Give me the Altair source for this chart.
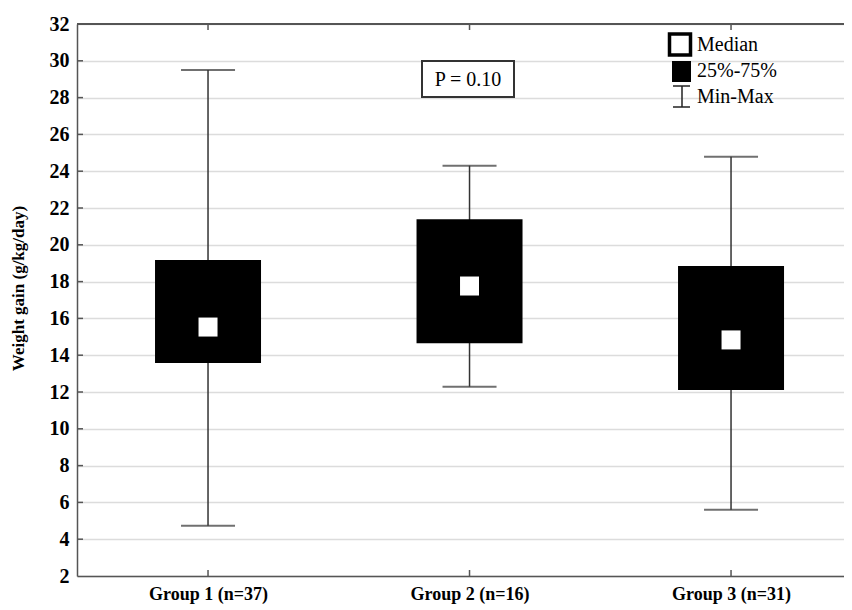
import altair as alt
import pandas as pd

# ---- data ----
groups = ["Group 1 (n=37)", "Group 2 (n=16)", "Group 3 (n=31)"]
mins = [4.73, 12.29, 5.6]
q1s = [13.58, 14.65, 12.11]
medians = [15.53, 17.76, 14.83]
q3s = [19.17, 21.39, 18.85]
maxs = [29.5, 24.3, 24.79]
y_ticks = list(range(2, 33, 2))
p_text = "P = 0.10"
legend_labels = ["Median", "25%-75%", "Min-Max"]

W, H = 767, 552
FONT = "Liberation Serif"
AX = "#555555"

df = pd.DataFrame({"group": groups, "min": mins, "q1": q1s, "median": medians,
                   "q3": q3s, "max": maxs})
ticks_df = pd.DataFrame({"v": y_ticks[1:-1]})

xscale = alt.Scale(type="point", domain=groups, padding=0.4665, align=0.537)
yscale = alt.Scale(domain=[2, 32], nice=False, zero=False)

x_axis = alt.Axis(title=None, ticks=False, labelFontSize=18, labelFontWeight="bold",
                  labelColor="black", labelPadding=9, domainColor=AX,
                  domainWidth=1.5, labelAngle=0, grid=False, labelBound=False)
y_axis = alt.Axis(values=y_ticks, title="Weight gain (g/kg/day)", titleFontSize=17,
                  titleFontWeight="bold", titleColor="black", titleX=-59, titleY=264,
                  titleAngle=-90, titleAlign="center", titleBaseline="middle",
                  ticks=False, labelFontSize=20, labelFontWeight="bold", labelColor="black",
                  labelPadding=8, labelOverlap=False, labelFlush=False, labelBound=False,
                  domainColor=AX, domainWidth=1.5, grid=True,
                  gridColor="#dcdcdc", gridWidth=1.5)


def X():
    return alt.X("group:N", scale=xscale, sort=groups, axis=x_axis)


def Y(field):
    return alt.Y(field, scale=yscale, axis=y_axis)


base = alt.Chart(df)

whisker = base.mark_rule(color="#333333", strokeWidth=1.5).encode(
    x=X(), y=Y("min:Q"), y2="max:Q")
cap_lo = base.mark_tick(color="#333333", size=54, thickness=2, orient="horizontal").encode(
    x=X(), y=Y("min:Q"))
cap_hi = base.mark_tick(color="#333333", size=54, thickness=2, orient="horizontal").encode(
    x=X(), y=Y("max:Q"))
box = base.mark_bar(color="black", size=106).encode(x=X(), y=Y("q1:Q"), y2="q3:Q")
med = base.mark_square(size=361, color="white", opacity=1).encode(x=X(), y=Y("median:Q"))

# inward ticks and frame
ytick_marks = alt.Chart(ticks_df).mark_rule(color=AX, strokeWidth=1.5).encode(
    x=alt.value(0), x2=alt.value(6), y=Y("v:Q"))
xtick_bot = base.mark_rule(color=AX, strokeWidth=1.5).encode(
    x=X(), y=alt.value(H), y2=alt.value(H - 6))
xtick_top = base.mark_rule(color=AX, strokeWidth=1.5).encode(
    x=X(), y=alt.value(0), y2=alt.value(6))
one = alt.Chart(pd.DataFrame({"a": [0]}))
top_frame = one.mark_rule(color=AX, strokeWidth=2).encode(
    x=alt.value(0), x2=alt.value(W), y=alt.value(0))

# P-value box
p_box = one.mark_rect(fill="white", stroke="#333333", strokeWidth=2).encode(
    x=alt.value(345), x2=alt.value(437), y=alt.value(37), y2=alt.value(73))
p_lbl = one.mark_text(font=FONT, fontSize=20, color="black", align="center",
                      baseline="middle").encode(x=alt.value(391), y=alt.value(56),
                                                text=alt.value(p_text))

# legend
leg_med = one.mark_square(size=441, fill="white", stroke="black", strokeWidth=3.5,
                          opacity=1).encode(x=alt.value(603), y=alt.value(20.5))
leg_box = one.mark_rect(color="black").encode(
    x=alt.value(595), x2=alt.value(614), y=alt.value(37), y2=alt.value(58))
leg_v = one.mark_rule(color="#222222", strokeWidth=1.5).encode(
    x=alt.value(605), y=alt.value(62), y2=alt.value(83))
leg_c1 = one.mark_rule(color="#222222", strokeWidth=1.5).encode(
    x=alt.value(596), x2=alt.value(613), y=alt.value(62))
leg_c2 = one.mark_rule(color="#222222", strokeWidth=1.5).encode(
    x=alt.value(596), x2=alt.value(613), y=alt.value(83))
leg_texts = [
    one.mark_text(font=FONT, fontSize=20, color="black", align="left",
                  baseline="alphabetic").encode(x=alt.value(620), y=alt.value(yy),
                                                text=alt.value(lbl))
    for lbl, yy in zip(legend_labels, [27, 53, 79])
]

chart = alt.layer(
    whisker, cap_lo, cap_hi, box, med, ytick_marks, xtick_bot, xtick_top, top_frame,
    p_box, p_lbl, leg_med, leg_box, leg_v, leg_c1, leg_c2, *leg_texts
).properties(
    width=W, height=H,
    autosize=alt.AutoSizeParams(type="none"),
    padding={"left": 69, "top": 16, "right": 0, "bottom": 30},
).configure(font=FONT).configure_view(stroke=None)

chart.save("out.html", embed_options={"renderer": "svg", "actions": False})
